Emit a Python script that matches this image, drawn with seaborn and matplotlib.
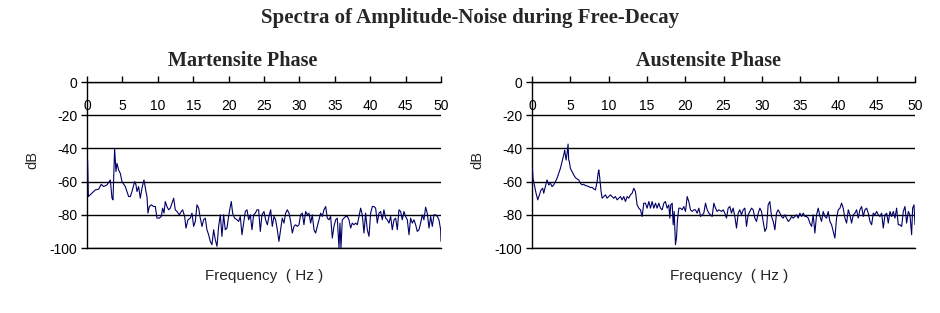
import matplotlib
matplotlib.use("Agg")
import matplotlib.pyplot as plt
import seaborn as sns
import pandas as pd

# ---------------- data ----------------
mart_freq = [0.08, 0.2, 1.17, 1.64, 2.02, 2.35, 2.82, 3.29, 3.53, 3.67, 3.90, 4.09, 4.23, 4.47, 4.70,
             4.94, 5.41, 5.88, 6.12, 6.35, 6.73, 6.92, 7.06, 7.29, 7.53, 7.76, 8.05, 8.33, 8.47, 8.61,
             8.80, 9.08, 9.41, 9.65, 9.88, 10.21, 10.49, 10.68, 10.87, 11.06, 11.29, 11.53, 11.76, 12.00,
             12.24, 12.47, 12.71, 13.04, 13.32, 13.51, 13.79, 13.98, 14.26, 14.59, 14.83, 15.06, 15.30,
             15.53, 15.77, 16.00, 16.24, 16.47, 16.71, 16.94, 17.18, 17.41, 17.65, 17.89, 18.12, 18.36,
             18.59, 18.83, 19.06, 19.30, 19.53, 19.77, 20.00, 20.24, 20.38, 20.57, 20.85, 21.18, 21.42,
             21.65, 21.89, 22.12, 22.36, 22.60, 22.83, 23.07, 23.30, 23.54, 23.77, 24.01, 24.24, 24.48,
             24.71, 25.00, 25.23, 25.47, 25.70, 25.94, 26.17, 26.41, 26.64, 26.88, 27.11, 27.35, 27.58,
             27.82, 28.06, 28.29, 28.53, 28.76, 29.00, 29.23, 29.47, 29.70, 29.94, 30.17, 30.41, 30.64,
             30.88, 31.12, 31.35, 31.59, 31.82, 32.06, 32.29, 32.53, 32.76, 33.00, 33.23, 33.47, 33.71,
             33.94, 34.18, 34.41, 34.65, 34.88, 35.12, 35.35, 35.59, 35.73, 35.87, 36.06, 36.29, 36.53,
             36.77, 37.00, 37.24, 37.47, 37.71, 37.94, 38.18, 38.41, 38.65, 38.88, 39.12, 39.35, 39.59,
             39.83, 40.06, 40.30, 40.53, 40.77, 41.00, 41.24, 41.47, 41.71, 41.94, 42.18, 42.41, 42.65,
             42.89, 43.12, 43.36, 43.59, 43.83, 44.06, 44.30, 44.53, 44.77, 45.00, 45.24, 45.48, 45.71,
             45.95, 46.18, 46.42, 46.65, 46.89, 47.12, 47.36, 47.59, 47.83, 48.06, 48.30, 48.54, 48.77,
             49.01, 49.24, 49.48, 49.71, 49.95, 50.0]
mart_db = [-47, -69, -65, -64.6, -61.6, -63, -62, -59, -70, -71, -40, -54, -49, -53, -55,
           -60, -63, -69, -69, -66, -60, -62, -66, -63, -70, -64, -59, -66, -69, -79,
           -75, -74, -75, -75, -82, -82, -81, -76, -79, -72, -75, -77, -76, -73,
           -70, -77, -78, -80, -78, -77, -81, -88, -83, -82, -79, -87, -84,
           -74, -76, -82, -87, -83, -82, -89, -92, -96, -98, -89, -95, -99,
           -87, -80, -93, -80, -89, -88, -81, -75, -72, -79, -82, -83, -84,
           -81, -92, -85, -78, -77, -83, -80, -89, -80, -79, -77, -77, -90,
           -80, -78, -83, -86, -81, -77, -87, -81, -83, -89, -96, -89, -82,
           -85, -79, -77, -79, -84, -91, -87, -86, -87, -86, -80, -79, -86,
           -78, -80, -79, -85, -80, -89, -91, -87, -83, -79, -81, -77, -75,
           -82, -83, -81, -94, -87, -83, -82, -100, -85, -100, -83, -82, -81,
           -81, -83, -88, -85, -86, -85, -86, -81, -76, -80, -91, -79, -89,
           -93, -79, -75, -75, -76, -85, -79, -78, -83, -77, -82, -83, -85,
           -81, -89, -83, -82, -89, -77, -78, -83, -78, -81, -83, -92, -82,
           -85, -83, -86, -90, -89, -85, -80, -83, -75.4, -79, -88, -81, -87,
           -80, -80, -81, -83, -89, -96]

aust_freq = [0.05, 0.13, 0.31, 0.53, 0.75, 0.96, 1.18, 1.40, 1.53, 1.75, 1.96, 2.18, 2.40, 2.62, 2.83,
             3.05, 3.27, 3.49, 3.71, 3.92, 4.14, 4.27, 4.45, 4.58, 4.71, 4.79, 4.88, 5.01, 5.23, 5.45,
             5.67, 5.88, 6.10, 6.32, 6.54, 6.75, 6.97, 7.19, 7.41, 7.63, 7.84, 8.06, 8.28, 8.50, 8.63,
             8.72, 8.85, 9.02, 9.15, 9.37, 9.59, 9.80, 10.02, 10.24, 10.46, 10.67, 10.89, 11.11, 11.33,
             11.55, 11.76, 11.98, 12.20, 12.42, 12.63, 12.85, 13.07, 13.29, 13.50, 13.72, 13.94, 14.16,
             14.38, 14.59, 14.81, 15.03, 15.25, 15.47, 15.68, 15.90, 16.12, 16.34, 16.55, 16.77, 16.99,
             17.21, 17.42, 17.64, 17.86, 17.99, 18.12, 18.30, 18.43, 18.56, 18.73, 18.86, 18.99, 19.17,
             19.38, 19.60, 19.82, 20.04, 20.26, 20.47, 20.69, 20.91, 21.13, 21.34, 21.56, 21.78, 22.00,
             22.21, 22.43, 22.65, 22.87, 23.09, 23.30, 23.52, 23.74, 23.96, 24.17, 24.39, 24.74, 24.96,
             25.17, 25.39, 25.61, 25.83, 26.04, 26.26, 26.48, 26.70, 26.92, 27.13, 27.35, 27.57, 27.79,
             28.00, 28.22, 28.44, 28.66, 28.88, 29.09, 29.31, 29.53, 29.75, 29.96, 30.18, 30.40, 30.62,
             30.83, 31.05, 31.27, 31.49, 31.71, 31.92, 32.14, 32.36, 32.58, 32.79, 33.01, 33.23, 33.45,
             33.67, 33.88, 34.10, 34.32, 34.54, 34.75, 34.97, 35.19, 35.41, 35.63, 35.84, 36.06, 36.28,
             36.50, 36.71, 36.93, 37.15, 37.37, 37.59, 37.80, 38.02, 38.24, 38.46, 38.67, 38.89, 39.11,
             39.33, 39.54, 39.76, 39.98, 40.20, 40.42, 40.63, 40.85, 41.07, 41.29, 41.50, 41.72, 41.94,
             42.16, 42.38, 42.59, 42.81, 43.03, 43.25, 43.46, 43.68, 43.90, 44.12, 44.34, 44.55, 44.77,
             44.99, 45.21, 45.42, 45.64, 45.86, 46.08, 46.30, 46.51, 46.73, 46.95, 47.17, 47.38, 47.60,
             47.82, 48.04, 48.26, 48.47, 48.69, 48.91, 49.13, 49.34, 49.56, 49.69, 49.87, 50.0]
aust_db = [-51.5, -58, -62, -67, -71, -68, -65, -64, -67, -63, -59, -62, -61, -63, -62,
           -60, -58, -55, -52, -48, -44, -41, -47, -43, -37.4, -47, -48, -52, -54, -56,
           -57.6, -58.4, -59, -61, -62, -61.6, -62.4, -62.6, -63, -63.6, -63.4, -64.4, -65, -60, -55,
           -53, -58, -66, -70, -69, -68, -70, -69, -68, -69, -70, -69, -71, -70,
           -69, -71, -69, -72, -69, -70, -68, -67, -64, -66, -74, -76, -77,
           -81, -73, -73, -76, -72, -76, -72, -76, -73, -76, -73, -76, -77,
           -73, -72, -76, -74, -82, -74, -73, -86, -78, -98, -94, -83, -76,
           -76, -77, -75, -78, -69, -72, -77, -78, -77, -77, -79, -76, -81,
           -80, -79, -73, -77, -79, -80, -81, -73, -76, -78, -77, -78, -77,
           -79, -82, -76, -75, -79, -76, -81, -88, -79, -77, -80, -77, -76,
           -87, -80, -78, -76, -77, -82, -84, -79, -76, -78, -84, -90, -88,
           -74, -72, -81, -84, -89, -79, -77, -79, -81, -82, -80, -82, -84,
           -83, -81, -82, -81, -80, -82, -79, -81, -79, -81, -81, -82, -85,
           -87, -80, -91, -80, -76, -81, -84, -78, -81, -82, -78, -84, -86,
           -90, -94, -82, -77, -76, -73, -76, -82, -85, -77, -80, -85, -80,
           -79, -77, -82, -77, -75, -81, -77, -76, -79, -84, -86, -79, -80,
           -78, -80, -81, -79, -88, -80, -79, -85, -78, -81, -78, -82, -76,
           -86, -86, -87, -78, -75, -85, -78, -80, -92, -76, -74, -86]

x_ticks = [0, 5, 10, 15, 20, 25, 30, 35, 40, 45, 50]
y_ticks = [0, -20, -40, -60, -80, -100]
panel_titles = ["Martensite Phase", "Austensite Phase"]
main_title = "Spectra of Amplitude-Noise during Free-Decay"
x_label = "Frequency  ( Hz )"
y_label = "dB"

# ---------------- figure ----------------
sns.set_style("white")
plt.rcParams["font.family"] = ["Liberation Sans", "DejaVu Sans"]

fig = plt.figure(figsize=(9.4, 3.13), dpi=100)
line_color = "#000066"

panels = [
    (pd.DataFrame({"f": mart_freq, "db": mart_db}), [87 / 940, 1 - 248 / 313, (441 - 87) / 940, (248 - 82) / 313], 264, 243, 32),
    (pd.DataFrame({"f": aust_freq, "db": aust_db}), [532 / 940, 1 - 248 / 313, (915 - 532) / 940, (248 - 82) / 313], 729, 709, 477),
]

for (df, rect, xl_x, title_x, yl_x), ptitle in zip(panels, panel_titles):
    ax = fig.add_axes(rect)
    sns.lineplot(data=df, x="f", y="db", ax=ax, color=line_color, linewidth=0.8,
                 estimator=None, sort=False, zorder=3)
    ax.set_xlim(0, 50)
    ax.set_ylim(-100, 0)
    ax.set_xticks(x_ticks)
    ax.set_yticks(y_ticks)
    ax.set_xticklabels([str(t) for t in x_ticks])
    ax.set_yticklabels([str(t) for t in y_ticks])
    ax.set_xlabel("")
    ax.set_ylabel("")
    for s in ["top", "bottom", "left"]:
        ax.spines[s].set_visible(True)
        ax.spines[s].set_color("black")
        ax.spines[s].set_linewidth(1.0)
    ax.spines["right"].set_visible(False)
    ax.yaxis.grid(True, color="black", linewidth=1.0)
    ax.xaxis.grid(False)
    ax.set_axisbelow(True)
    ax.xaxis.set_ticks_position("top")
    ax.tick_params(axis="x", which="major", top=True, bottom=False, labeltop=True,
                   labelbottom=False, direction="out", length=4, width=1.0,
                   pad=-26.5, labelsize=10, colors="black")
    ax.tick_params(axis="y", which="major", left=True, direction="out", length=4,
                   width=1.0, pad=3, labelsize=10, colors="black")
    fig.text(xl_x / 940, 1 - 276 / 313, x_label, ha="center", va="center", fontsize=11)
    fig.text(yl_x / 940, 1 - 160 / 313, y_label, ha="center", va="center", rotation=90, fontsize=10.5)
    fig.text(title_x / 940, 1 - 61 / 313, ptitle, ha="center", va="center", fontsize=14.5,
             fontweight="bold", family=["Liberation Serif", "DejaVu Serif"])

fig.text(0.5, 1 - 18 / 313, main_title, ha="center", va="center", fontsize=15,
         fontweight="bold", family=["Liberation Serif", "DejaVu Serif"])

fig.savefig("out.png", dpi=100, facecolor="white")
